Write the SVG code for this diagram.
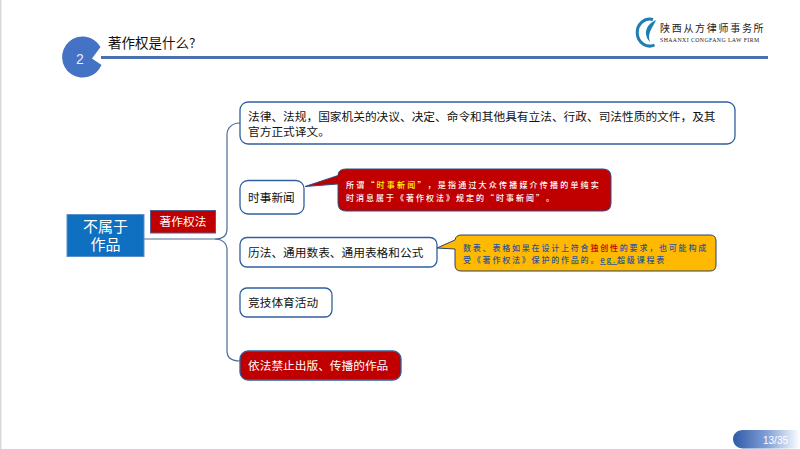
<svg xmlns="http://www.w3.org/2000/svg" width="800" height="449" viewBox="0 0 800 449">
<style>
text{font-family:"Noto Sans CJK SC","Liberation Sans",sans-serif}
.box{fill:#fff;stroke:#2f5f9e;stroke-width:1.3}
.t{font-size:11.7px;fill:#111}
.c{font-size:8px;letter-spacing:1.8px;font-weight:500}
.conn{fill:none;stroke:#4a6a9c;stroke-width:1.2}
</style>
<defs>
<linearGradient id="pg" x1="0" x2="1" y1="0" y2="0">
<stop offset="0" stop-color="#2f5aa8"/><stop offset="0.5" stop-color="#7f9fd6"/><stop offset="1" stop-color="#fff"/>
</linearGradient>
</defs>
<rect width="800" height="449" fill="#fff"/>
<rect x="0" y="0" width="1.5" height="449" fill="#d9d9d9"/>
<g id="header">
<path d="M100.500 47A20.500 20.500 0 1 0 101.500 65L92 58.500Z" fill="#4472c4"/>
<text x="80" y="64" font-size="14" fill="#e8eef8" text-anchor="middle" style="font-family:'Liberation Sans',sans-serif">2</text>
<rect x="101" y="56" width="667" height="3" fill="#4a70b0"/>
<text x="108" y="48" font-size="13.500" fill="#111">著作权是什么?</text>
</g>
<g id="logo">
<path d="M653 19.500A12.500 13.500 0 1 0 654.500 45" fill="none" stroke="#1c7fb0" stroke-width="3"/>
<path d="M656 20C647 24 642 33 650 42C647 33 652 29 656 20Z" fill="#1c7fb0"/>
<text x="660" y="32" font-size="10" letter-spacing="1.700" fill="#222">陕西从方律师事务所</text>
<text x="660" y="42" font-size="5.800" letter-spacing="0.420" fill="#222" style="font-family:'Liberation Serif',serif">SHAANXI CONGFANG LAW FIRM</text>
</g>
<g id="connectors">
<path class="conn" d="M144 239H215"/>
<path class="conn" d="M215 239C222 239 227 236 227 229V135C227 128 232 123 240 123"/>
<path class="conn" d="M215 239C222 239 227 243 227 250V351C227 358 232 361 240 361"/>
</g>
<g id="root">
<rect x="67" y="214.500" width="77" height="42" fill="#0f6fc0" stroke="#5b8fc9"/>
<text font-size="15" fill="#fff" text-anchor="middle"><tspan x="105.500" y="232">不属于</tspan><tspan x="105.500" y="250">作品</tspan></text>
</g>
<g id="law-label">
<rect x="150.500" y="210.500" width="65" height="22.500" fill="#c00000" stroke="#4f5f8f"/>
<text x="183" y="226" font-size="11.700" fill="#fff" text-anchor="middle">著作权法</text>
</g>
<g id="n1">
<rect class="box" x="240" y="102" width="495" height="42" rx="8"/>
<text class="t"><tspan x="248" y="121">法律、法规，国家机关的决议、决定、命令和其他具有立法、行政、司法性质的文件，及其</tspan><tspan x="248" y="135.500">官方正式译文。</tspan></text>
</g>
<g id="n2">
<rect class="box" x="240" y="180.500" width="64" height="33.500" rx="8"/>
<text class="t" x="248" y="202">时事新闻</text>
</g>
<g id="n3">
<rect class="box" x="240" y="237.500" width="197" height="29.500" rx="7"/>
<text class="t" x="248" y="256.500">历法、通用数表、通用表格和公式</text>
</g>
<g id="n4">
<rect class="box" x="240" y="288" width="92" height="29" rx="7"/>
<text class="t" x="248" y="306.500">竞技体育活动</text>
</g>
<g id="n5">
<rect x="240" y="351" width="161" height="29" rx="8" fill="#c00000" stroke="#2f5f9e" stroke-width="1.300"/>
<text class="t" x="248" y="369.500" style="fill:#fff">依法禁止出版、传播的作品</text>
</g>
<g id="callout-news">
<path d="M346 169H603Q611 169 611 177V203Q611 211 603 211H346Q338 211 338 203V184L305 186.500L338 175.500Q338 169 346 169Z" fill="#c00000" stroke="#2f5080" stroke-width="1"/>
<text class="c" x="346" y="188" fill="#fff" style="letter-spacing:2.200px">所谓“<tspan fill="#ffff00">时事新闻</tspan>”，是指通过大众传播媒介传播的单纯实</text>
<text class="c" x="346" y="201" fill="#fff" style="letter-spacing:2px">时消息属于《著作权法》规定的“时事新闻”。</text>
</g>
<g id="callout-table">
<path d="M461 235H710Q716 235 716 241V265Q716 271 710 271H461Q455 271 455 265V249L437 248L455 240Q456 235 461 235Z" fill="#ffb900" stroke="#2f4060" stroke-width="1"/>
<text class="c" x="463" y="251" fill="#2a5596">数表、表格如果在设计上符合<tspan fill="#c00000">独创性</tspan>的要求，也可能构成</text>
<text class="c" x="463" y="263" fill="#2a5596">受《著作权法》保护的作品的。<tspan style="text-decoration:underline wavy #e04040">eg.</tspan>超级课程表</text>
</g>
<g id="page">
<path d="M800 430H743C737 430 733 434 733 439C733 444 737 448.500 743 448.500H800Z" fill="url(#pg)"/>
<text x="763" y="444" font-size="10" fill="#fff" style="font-family:'Liberation Sans',sans-serif">13/35</text>
</g>
</svg>
